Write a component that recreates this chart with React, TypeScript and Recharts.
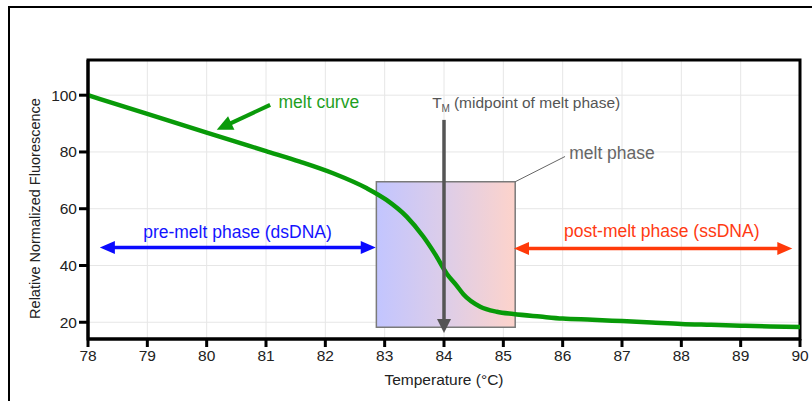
import {
  CartesianGrid,
  Line,
  LineChart,
  ReferenceArea,
  ReferenceDot,
  ReferenceLine,
  XAxis,
  YAxis,
} from "recharts";

const FONT = '"Liberation Sans", Arial, Helvetica, sans-serif';

// melt curve (temperature °C -> relative normalized fluorescence)
const temps = [
  78, 79, 80, 81, 81.57, 82.13, 82.7, 83.03, 83.37, 83.65, 83.85, 84.05, 84.21, 84.33, 84.61,
  84.89, 85.17, 85.62, 86, 86.5, 87, 87.5, 88, 88.5, 89, 89.5, 90,
];
const fluorescence = [
  100, 93.4, 86.8, 80.3, 76.6, 72.5, 67.2, 63.1, 57.2, 50.2, 44.0, 37.0, 33.0, 29.8, 25.5,
  23.7, 22.9, 22.0, 21.3, 20.9, 20.4, 19.9, 19.4, 19.1, 18.8, 18.5, 18.3,
];

const xTicks = [78, 79, 80, 81, 82, 83, 84, 85, 86, 87, 88, 89, 90];
const yTicks = [20, 40, 60, 80, 100];

// annotation anchors, in data units
const meltPhaseX = [82.86, 85.2];
const meltPhaseY = [18.2, 69.5];
const tmTemp = 84;
const tmArrowY = [91.3, 16.2];
const preMeltX = [78.2, 82.85];
const postMeltX = [85.18, 89.87];

const data = temps.map((t, i) => ({ temp: t, value: fluorescence[i] }));

function arrowShape(color: string, lineW: number, head: number, half: number, both: boolean) {
  return (p: any) => {
    const { x1, y1, x2, y2 } = p;
    const len = Math.hypot(x2 - x1, y2 - y1) || 1;
    const ux = (x2 - x1) / len;
    const uy = (y2 - y1) / len;
    const head1 = (tx: number, ty: number, dx: number, dy: number) => {
      const bx = tx - dx * head;
      const by = ty - dy * head;
      return `${tx},${ty} ${bx - dy * half},${by + dx * half} ${bx + dy * half},${by - dx * half}`;
    };
    const sx = both ? x1 + ux * (head - 2) : x1;
    const sy = both ? y1 + uy * (head - 2) : y1;
    return (
      <g>
        <line
          x1={sx}
          y1={sy}
          x2={x2 - ux * (head - 2)}
          y2={y2 - uy * (head - 2)}
          stroke={color}
          strokeWidth={lineW}
        />
        <polygon points={head1(x2, y2, ux, uy)} fill={color} />
        {both ? <polygon points={head1(x1, y1, -ux, -uy)} fill={color} /> : null}
      </g>
    );
  };
}

function textShape(text: string, color: string, anchor: "start" | "middle", size: number) {
  return (p: any) => (
    <text x={p.cx} y={p.cy} fill={color} fontSize={size} fontFamily={FONT} textAnchor={anchor}>
      {text}
    </text>
  );
}

function tmLabel(p: any) {
  return (
    <text x={p.cx} y={p.cy} fill="#555" fontSize={15.5} fontFamily={FONT}>
      T
      <tspan fontSize={10} dy={4}>
        M
      </tspan>
      <tspan dy={-4} dx={4}>
        (midpoint of melt phase)
      </tspan>
    </text>
  );
}

function YLabel(props: any) {
  const vb = props.viewBox;
  const cx = vb.x + 39.5;
  const cy = vb.y + vb.height / 2 + 9;
  return (
    <text
      x={cx}
      y={cy}
      transform={`rotate(-90 ${cx} ${cy})`}
      textAnchor="middle"
      fill="#222"
      fontSize={14.5}
      fontFamily={FONT}
    >
      Relative Normalized Fluorescence
    </text>
  );
}

export default function App() {
  const tick = { fill: "#222", fontSize: 15.5, fontFamily: FONT };
  return (
    <div
      style={{
        position: "absolute",
        left: 0,
        top: 0,
        width: 812,
        height: 401,
        overflow: "hidden",
        background: "#fff",
      }}
    >
      <div
        style={{
          position: "absolute",
          left: 8,
          top: 6,
          width: 900,
          height: 500,
          border: "2px solid #000",
        }}
      />
      <div style={{ position: "absolute", left: 0, top: 0 }}>
        <LineChart
          width={812}
          height={401}
          data={data}
          margin={{ top: 60, right: 12, left: 0, bottom: 12 }}
        >
          <defs>
            <linearGradient id="meltGrad" x1="0" y1="0" x2="1" y2="0">
              <stop offset="0%" stopColor="#c2c5ff" />
              <stop offset="50%" stopColor="#ddcde8" />
              <stop offset="100%" stopColor="#fdd3cb" />
            </linearGradient>
          </defs>
          <CartesianGrid stroke="#e6e6e6" strokeWidth={1} />
          <XAxis
            dataKey="temp"
            type="number"
            domain={[78, 90]}
            ticks={xTicks}
            interval={0}
            allowDataOverflow
            height={50}
            tickSize={8}
            tickMargin={3}
            tick={tick}
            axisLine={{ stroke: "#000", strokeWidth: 3 }}
            tickLine={{ stroke: "#000", strokeWidth: 3 }}
            label={{
              value: "Temperature (°C)",
              position: "insideBottom",
              offset: 4,
              fill: "#222",
              fontSize: 15.5,
              fontFamily: FONT,
            }}
          />
          <YAxis
            type="number"
            domain={[14.1, 112.4]}
            ticks={yTicks}
            interval={0}
            allowDataOverflow
            width={88}
            tickSize={9}
            tickMargin={2}
            tick={tick}
            axisLine={{ stroke: "#000", strokeWidth: 3 }}
            tickLine={{ stroke: "#000", strokeWidth: 3 }}
            label={<YLabel />}
          />
          <ReferenceArea
            x1={meltPhaseX[0]}
            x2={meltPhaseX[1]}
            y1={meltPhaseY[0]}
            y2={meltPhaseY[1]}
            fill="url(#meltGrad)"
            fillOpacity={1}
            stroke="#7a7a7a"
            strokeWidth={1.5}
            ifOverflow="visible"
          />
          <Line
            type="monotone"
            dataKey="value"
            stroke="#089a08"
            strokeWidth={4.5}
            dot={false}
            activeDot={false}
            isAnimationActive={false}
          />
          <ReferenceArea
            x1={78}
            x2={90}
            y1={14.1}
            y2={112.4}
            fill="none"
            stroke="#000"
            strokeWidth={3}
            ifOverflow="visible"
          />
          <ReferenceLine
            segment={[
              { x: meltPhaseX[1], y: meltPhaseY[1] },
              { x: 86.04, y: 78.4 },
            ]}
            stroke="#666"
            strokeWidth={1}
            ifOverflow="visible"
          />
          <ReferenceLine
            segment={[
              { x: tmTemp, y: tmArrowY[0] },
              { x: tmTemp, y: tmArrowY[1] },
            ]}
            ifOverflow="visible"
            shape={arrowShape("#555", 3.5, 14, 7, false)}
          />
          <ReferenceLine
            segment={[
              { x: 81.07, y: 96.6 },
              { x: 80.17, y: 87.8 },
            ]}
            ifOverflow="visible"
            shape={arrowShape("#0a9a0a", 4, 16, 7.5, false)}
          />
          <ReferenceLine
            segment={[
              { x: preMeltX[0], y: 46.3 },
              { x: preMeltX[1], y: 46.3 },
            ]}
            ifOverflow="visible"
            shape={arrowShape("#0a0aff", 3.5, 15, 6.5, true)}
          />
          <ReferenceLine
            segment={[
              { x: postMeltX[0], y: 46.0 },
              { x: postMeltX[1], y: 46.0 },
            ]}
            ifOverflow="visible"
            shape={arrowShape("#ff3a0a", 3.5, 15, 6.5, true)}
          />
          <ReferenceDot
            x={81.21}
            y={95.6}
            r={0}
            ifOverflow="visible"
            shape={textShape("melt curve", "#1f9f1f", "start", 17.5)}
          />
          <ReferenceDot x={83.8} y={95.4} r={0} ifOverflow="visible" shape={tmLabel} />
          <ReferenceDot
            x={86.11}
            y={77.4}
            r={0}
            ifOverflow="visible"
            shape={textShape("melt phase", "#666", "start", 17.5)}
          />
          <ReferenceDot
            x={80.52}
            y={49.6}
            r={0}
            ifOverflow="visible"
            shape={textShape("pre-melt phase (dsDNA)", "#1414ff", "middle", 17.5)}
          />
          <ReferenceDot
            x={87.67}
            y={49.9}
            r={0}
            ifOverflow="visible"
            shape={textShape("post-melt phase (ssDNA)", "#ff3a12", "middle", 17.5)}
          />
        </LineChart>
      </div>
    </div>
  );
}
